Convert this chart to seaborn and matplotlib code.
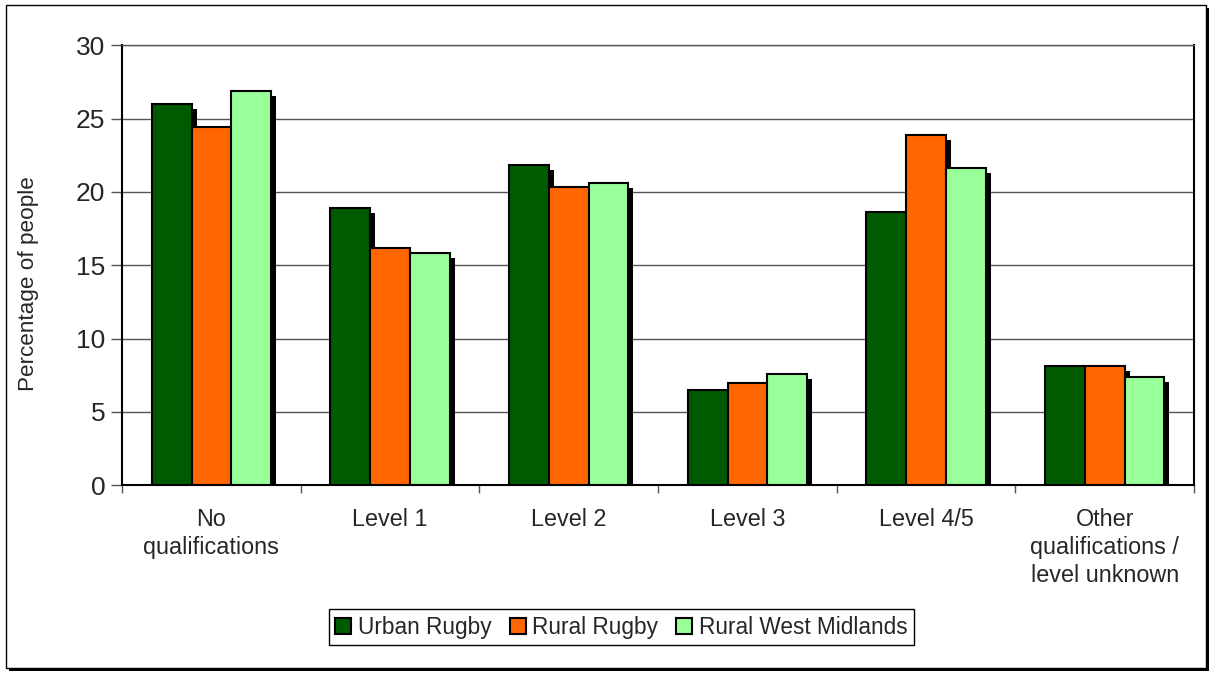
import pandas as pd
import seaborn as sns
import matplotlib.pyplot as plt
import matplotlib.patheffects as pe
from matplotlib.patches import Rectangle

# 数据
categories = ["No\nqualifications", "Level 1", "Level 2", "Level 3", "Level 4/5",
              "Other\nqualifications /\nlevel unknown"]
urban_rugby = [26.0, 18.9, 21.8, 6.5, 18.6, 8.1]
rural_rugby = [24.4, 16.2, 20.3, 7.0, 23.9, 8.1]
rural_wm = [26.9, 15.8, 20.6, 7.6, 21.6, 7.4]
series = ["Urban Rugby", "Rural Rugby", "Rural West Midlands"]
colors = ["#005a00", "#ff6600", "#99ff99"]

df = pd.DataFrame({"category": categories * 3,
                   "series": [s for s in series for _ in categories],
                   "value": urban_rugby + rural_rugby + rural_wm})

sns.set_style("white")
plt.rcParams["font.family"] = ["Liberation Sans", "DejaVu Sans"]

fig = plt.figure(figsize=(12.12, 6.74), dpi=100)
ax = fig.add_axes([0.1007, 0.280, 0.8845, 0.653])

sns.barplot(data=df, x="category", y="value", hue="series", palette=colors, saturation=1,
            width=0.667, gap=0, edgecolor="black", linewidth=1.5, ax=ax, zorder=3)

# 阴影效果
for p in ax.patches:
    p.set_path_effects([pe.SimplePatchShadow(offset=(3.6, -3.6), shadow_rgbFace="black", alpha=1),
                        pe.Normal()])

ax.set_ylim(0, 30)
ax.set_yticks(range(0, 31, 5))
ax.set_xlim(-0.5, 5.5)
ax.yaxis.grid(True, color="#555555", linewidth=1)
ax.set_axisbelow(True)
ax.set_xlabel("")
ax.set_ylabel("Percentage of people", fontsize=16.2)
ax.yaxis.set_label_coords(-0.0774, 0.459)
ax.tick_params(axis="y", labelsize=19, length=8, width=1, color="#555555", left=True, pad=4)
ax.tick_params(axis="x", which="major", length=0, labelsize=16.8, pad=16)
ax.set_xticks([x + 0.5 for x in range(-1, 6)], minor=True)
ax.tick_params(axis="x", which="minor", length=6, width=1, color="#555555", bottom=True)
for lbl in ax.get_xticklabels():
    lbl.set_linespacing(1.3)

for side in ["left", "bottom", "right"]:
    ax.spines[side].set_color("black")
    ax.spines[side].set_linewidth(1.5)
ax.spines["top"].set_color("#555555")
ax.spines["top"].set_linewidth(1)

sns.move_legend(ax, "center", bbox_to_anchor=(0.5128, 0.0697), bbox_transform=fig.transFigure,
                ncol=3, title=None, frameon=True, fontsize=16.3, fancybox=False,
                handlelength=0.7, handleheight=0.7, handletextpad=0.3, columnspacing=0.8,
                borderpad=0.3, edgecolor="black", framealpha=1)
ax.get_legend().get_frame().set_linewidth(1)

# 外框
border = Rectangle((0.005, 0.009), 0.99, 0.983, transform=fig.transFigure, facecolor="white",
                   edgecolor="black", linewidth=1, zorder=-1,
                   path_effects=[pe.SimplePatchShadow(offset=(2.2, -2.2), shadow_rgbFace="black", alpha=1),
                                 pe.Normal()])
fig.patches.append(border)

fig.savefig("out.png", dpi=100)
